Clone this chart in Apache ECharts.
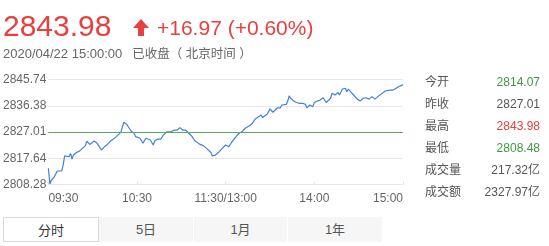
<!DOCTYPE html>
<html>
<head>
<meta charset="utf-8">
<script src="https://cdn.jsdelivr.net/npm/echarts@6/dist/echarts.min.js"></script>
<style>
  html, body { margin: 0; padding: 0; background: #fff; width: 549px; height: 246px; overflow: hidden; }
  body { position: relative; font-family: Arial, "Liberation Sans", "Noto Sans CJK SC", sans-serif; }
  #chart { position: absolute; left: 0; top: 0; width: 549px; height: 246px; }
  .abs { position: absolute; white-space: nowrap; }
  #price { left: 3px; top: 11px; font-size: 30px; line-height: 30px; color: #e8403f; }
  #chg { left: 157px; top: 17px; font-size: 21px; line-height: 21px; color: #e8403f; }
  #arrow { left: 133px; top: 19px; width: 16px; height: 17px; }
  #date { left: 3px; top: 47px; font-size: 13px; line-height: 13px; color: #666; }
  #date .cn { margin-left: 10px; font-size: 12.5px; }
  .lab { left: 425px; font-size: 12px; line-height: 14px; color: #555; }
  .val { right: 9px; font-size: 12px; line-height: 14px; color: #555; text-align: right; }
  #tabs { position: absolute; left: 3px; top: 217px; height: 25px; width: 379px; background: #f6f6f6; }
  .tab { position: absolute; top: 0; height: 25px; line-height: 25px; text-align: center; font-size: 13px; color: #555; box-sizing: border-box; }
  .tab.on { background: #fff; border: 1px solid #d9d9d9; color: #333; }
  .sep { border-left: 1px solid #ffffff; }
</style>
</head>
<body>
<div id="chart"></div>
<div id="overlay"></div>
<script>
// ---- data ----
const lastPrice = '2843.98';
const changeText = '+16.97 (+0.60%)';
const dateText = '2020/04/22 15:00:00';
const statusText = '已收盘（ 北京时间 ）';
const prevClose = 2827.01;
const yTickLabels = ['2808.28', '2817.64', '2827.01', '2836.38', '2845.74'];
const xTickLabels = ['09:30', '10:30', '11:30/13:00', '14:00', '15:00'];
const statNames = ['今开', '昨收', '最高', '最低', '成交量', '成交额'];
const statValues = ['2814.07', '2827.01', '2843.98', '2808.48', '217.32亿', '2327.97亿'];
const statColors = ['#3f9a3f', '#555', '#e8403f', '#3f9a3f', '#555', '#555'];
const tabNames = ['分时', '5日', '1月', '1年'];

const times = [
  '09:30','09:31','09:32','09:33','09:34','09:36','09:37','09:39','09:40','09:41',
  '09:42','09:44','09:45','09:46','09:47','09:49','09:51','09:53','09:54','09:55',
  '09:56','09:58','09:59','10:01','10:03','10:04','10:05','10:06','10:08','10:10',
  '10:12','10:14','10:16','10:19','10:20','10:21','10:23','10:24','10:26','10:28',
  '10:29','10:30','10:32','10:34','10:36','10:37','10:39','10:41','10:42','10:44',
  '10:46','10:48','10:50','10:51','10:53','10:55','10:57','10:59','11:01','11:03',
  '11:05','11:07','11:09','11:12','11:15','11:17','11:20','11:21','11:23','11:25',
  '11:28','11:30','13:02','13:04','13:07','13:09','13:11','13:13','13:16','13:18',
  '13:19','13:20','13:21','13:24','13:25','13:26','13:28','13:30','13:32','13:33',
  '13:35','13:37','13:38','13:41','13:42','13:43','13:44','13:46','13:48','13:50',
  '13:52','13:54','13:55','13:57','13:59','14:00','14:02','14:04','14:06','14:08',
  '14:09','14:11','14:12','14:14','14:16','14:17','14:19','14:21','14:22','14:23',
  '14:25','14:27','14:29','14:31','14:33','14:35','14:37','14:39','14:41','14:43',
  '14:45','14:46','14:48','14:51','14:53','14:54','14:57','15:00'
];
const prices = [
  2814.07,2808.48,2809.8,2809.2,2811.0,2813.1,2813.8,2813.1,2815.2,2818.5,
  2819.0,2818.2,2819.4,2817.4,2818.8,2819.7,2820.2,2821.2,2821.8,2822.1,
  2823.8,2822.6,2822.0,2823.8,2823.0,2823.3,2821.4,2820.6,2821.8,2822.6,
  2823.8,2824.5,2825.4,2826.9,2828.6,2830.5,2829.8,2829.0,2827.4,2826.6,
  2825.4,2826.0,2824.8,2823.0,2824.8,2825.0,2824.2,2822.4,2823.8,2824.5,
  2824.5,2826.0,2827.1,2827.4,2827.1,2827.7,2827.7,2828.6,2827.7,2827.7,
  2826.6,2825.6,2824.0,2822.8,2822.1,2821.2,2819.7,2818.5,2818.8,2819.7,
  2821.4,2822.4,2821.8,2823.3,2825.4,2826.6,2827.1,2828.3,2829.3,2830.1,
  2830.7,2831.7,2831.0,2833.1,2832.2,2831.9,2833.4,2835.3,2834.1,2834.5,
  2835.7,2835.7,2836.7,2836.9,2838.1,2840.0,2839.1,2838.1,2837.6,2837.3,
  2837.3,2836.9,2835.7,2836.7,2836.1,2837.6,2838.1,2838.5,2839.3,2837.6,
  2837.6,2839.1,2840.9,2840.3,2841.2,2840.3,2842.4,2842.7,2841.4,2842.4,
  2841.2,2840.0,2838.8,2838.1,2839.1,2839.3,2838.8,2839.7,2838.8,2839.7,
  2840.5,2840.0,2841.7,2842.0,2842.0,2842.7,2843.2,2843.98
];

// ---- helpers ----
function minuteIndex(t) {
  const [h, m] = t.split(':').map(Number);
  const mins = h * 60 + m;
  if (mins <= 11 * 60 + 30) return mins - (9 * 60 + 30);
  return 120 + mins - 13 * 60;
}
const seriesData = times.map((t, i) => [minuteIndex(t), prices[i]]);

// ---- HTML text parts ----
const ov = document.getElementById('overlay');
function add(html) { ov.insertAdjacentHTML('beforeend', html); }
add('<div class="abs" id="price">' + lastPrice + '</div>');
add('<svg class="abs" id="arrow" viewBox="0 0 16 17"><polygon points="8,0 16,9 11,9 11,17 5,17 5,9 0,9" fill="#e8403f"/></svg>');
add('<div class="abs" id="chg">' + changeText + '</div>');
add('<div class="abs" id="date">' + dateText + '<span class="cn">' + statusText + '</span></div>');
const rowTops = [75, 97, 119, 141, 163, 185];
statNames.forEach((n, i) => {
  add('<div class="abs lab" style="top:' + rowTops[i] + 'px">' + n + '</div>');
  add('<div class="abs val" style="top:' + rowTops[i] + 'px;color:' + statColors[i] + '">' + statValues[i] + '</div>');
});
let tabsHtml = '<div id="tabs">';
const tabLefts = [0, 96, 190, 284];
const tabWidths = [96, 94, 94, 95];
tabNames.forEach((n, i) => {
  tabsHtml += '<div class="tab' + (i === 0 ? ' on' : (i > 1 ? ' sep' : '')) + '" style="left:' + tabLefts[i] + 'px;width:' + tabWidths[i] + 'px">' + n + '</div>';
});
tabsHtml += '</div>';
add(tabsHtml);

// ---- chart ----
const chart = echarts.init(document.getElementById('chart'), null, { renderer: 'canvas' });
const yMin = Number(yTickLabels[0]);
const yMax = Number(yTickLabels[yTickLabels.length - 1]);
chart.setOption({
  animation: false,
  grid: { left: 48, right: 146, top: 79.7, bottom: 61.5 },
  xAxis: {
    type: 'value', min: 0, max: 240, interval: 60,
    axisLine: { show: false },
    axisTick: { show: true, inside: true, length: 3, lineStyle: { color: '#e3e3e3' } },
    splitLine: { show: false },
    axisLabel: {
      color: '#666', fontSize: 12, fontFamily: 'Arial', margin: 8,
      alignMinLabel: 'left', alignMaxLabel: 'right',
      formatter: (v) => xTickLabels[Math.round(v / 60)]
    }
  },
  yAxis: {
    type: 'value', min: yMin, max: yMax, interval: (yMax - yMin) / 4,
    axisLine: { show: false }, axisTick: { show: false },
    splitLine: { lineStyle: { color: '#e8e8e8', width: 1 } },
    axisLabel: {
      color: '#666', fontSize: 12, fontFamily: 'Arial', margin: 2,
      formatter: (v, i) => yTickLabels[i]
    }
  },
  series: [{
    type: 'line', data: seriesData, showSymbol: false, symbol: 'none',
    lineStyle: { color: '#3f80e0', width: 1.2 },
    markLine: {
      silent: true, symbol: 'none', label: { show: false },
      lineStyle: { color: '#5aaa5a', type: 'solid', width: 1 },
      data: [{ yAxis: prevClose }]
    }
  }]
});
</script>
</body>
</html>
